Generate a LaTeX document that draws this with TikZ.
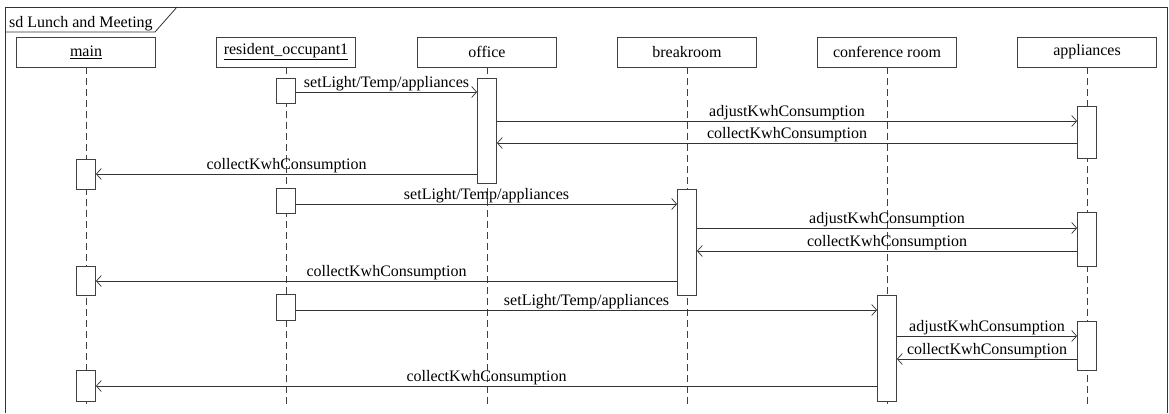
\documentclass[tikz,border=0pt]{standalone}
\usepackage{fontspec}
\setmainfont{Liberation Serif}
\usetikzlibrary{arrows.meta}

\begin{document}
\begin{tikzpicture}[x=1pt, y=-1pt,
    every node/.style={font=\fontsize{16}{18}\selectfont, text=black},
    head/.style={draw=black!75, line width=0.8pt, minimum width=139pt, minimum height=30pt, inner sep=0pt},
    act/.style={draw=black!75, fill=white, line width=0.8pt, minimum width=19pt, inner sep=0pt, anchor=north},
    life/.style={draw=black!75, line width=0.8pt, dash pattern=on 7pt off 4pt},
    msg/.style={draw=black!80, line width=0.7pt, -{Straight Barb[length=5pt,width=11pt]}},
    lbl/.style={above, inner sep=0.3pt}]
  \useasboundingbox (0,0) rectangle (1169,413);

  % frame
  \draw[black!80, line width=0.8pt] (5,413) -- (5,7) -- (1167,7) -- (1167,413);
  \draw[black!80, line width=0.8pt] (5,32) -- (155,32) -- (177,7);
  \node[anchor=base west, inner sep=0pt] (title) at (9,27) {sd Lunch and Meeting};

  % lifeline heads
  \node[head] (main) at (86,52) {\underline{main}};
  \node[head] (res) at (286,52) {\underline{resident\_occupant1}};
  \node[head] (office) at (487,52) {office};
  \node[head] (brk) at (687,52) {breakroom};
  \node[head] (conf) at (887,52) {conference room};
  \node[head] (app) at (1087,52) {appliances};

  \draw[life] (main.south) -- (main.south |- 0,408);
  \draw[life] (res.south) -- (res.south |- 0,408);
  \draw[life] (office.south) -- (office.south |- 0,408);
  \draw[life] (brk.south) -- (brk.south |- 0,408);
  \draw[life] (conf.south) -- (conf.south |- 0,408);
  \draw[life] (app.south) -- (app.south |- 0,408);

  % activations
  \node[act, minimum height=30pt] (ma1) at (86,159) {};
  \node[act, minimum height=29pt] (ma2) at (86,266) {};
  \node[act, minimum height=31pt] (ma3) at (86,370) {};
  \node[act, minimum height=25pt] (ra1) at (286,78) {};
  \node[act, minimum height=25pt] (ra2) at (286,188) {};
  \node[act, minimum height=26pt] (ra3) at (286,294) {};
  \node[act, minimum height=105pt] (oa) at (487,78) {};
  \node[act, minimum height=106pt] (ba) at (687,189) {};
  \node[act, minimum height=106pt] (ca) at (887,295) {};
  \node[act, minimum height=52pt] (aa1) at (1087,106) {};
  \node[act, minimum height=54pt] (aa2) at (1087,212) {};
  \node[act, minimum height=49pt] (aa3) at (1087,321) {};

  % messages
  \draw[msg] (ra1.east |- 0,92) -- (oa.west |- 0,92) node[lbl, midway] {setLight/Temp/appliances};
  \draw[msg] (oa.east |- 0,121) -- (aa1.west |- 0,121) node[lbl, midway] {adjustKwhConsumption};
  \draw[msg] (aa1.west |- 0,143) -- (oa.east |- 0,143) node[lbl, midway] {collectKwhConsumption};
  \draw[msg] (oa.west |- 0,174) -- (ma1.east |- 0,174) node[lbl, midway] {collectKwhConsumption};

  \draw[msg] (ra2.east |- 0,204) -- (ba.west |- 0,204) node[lbl, midway] {setLight/Temp/appliances};
  \draw[msg] (ba.east |- 0,228) -- (aa2.west |- 0,228) node[lbl, midway] {adjustKwhConsumption};
  \draw[msg] (aa2.west |- 0,251) -- (ba.east |- 0,251) node[lbl, midway] {collectKwhConsumption};
  \draw[msg] (ba.west |- 0,281) -- (ma2.east |- 0,281) node[lbl, midway] {collectKwhConsumption};

  \draw[msg] (ra3.east |- 0,310) -- (ca.west |- 0,310) node[lbl, midway] {setLight/Temp/appliances};
  \draw[msg] (ca.east |- 0,336) -- (aa3.west |- 0,336) node[lbl, midway] {adjustKwhConsumption};
  \draw[msg] (aa3.west |- 0,359) -- (ca.east |- 0,359) node[lbl, midway] {collectKwhConsumption};
  \draw[msg] (ca.west |- 0,386) -- (ma3.east |- 0,386) node[lbl, midway] {collectKwhConsumption};
\end{tikzpicture}
\end{document}
